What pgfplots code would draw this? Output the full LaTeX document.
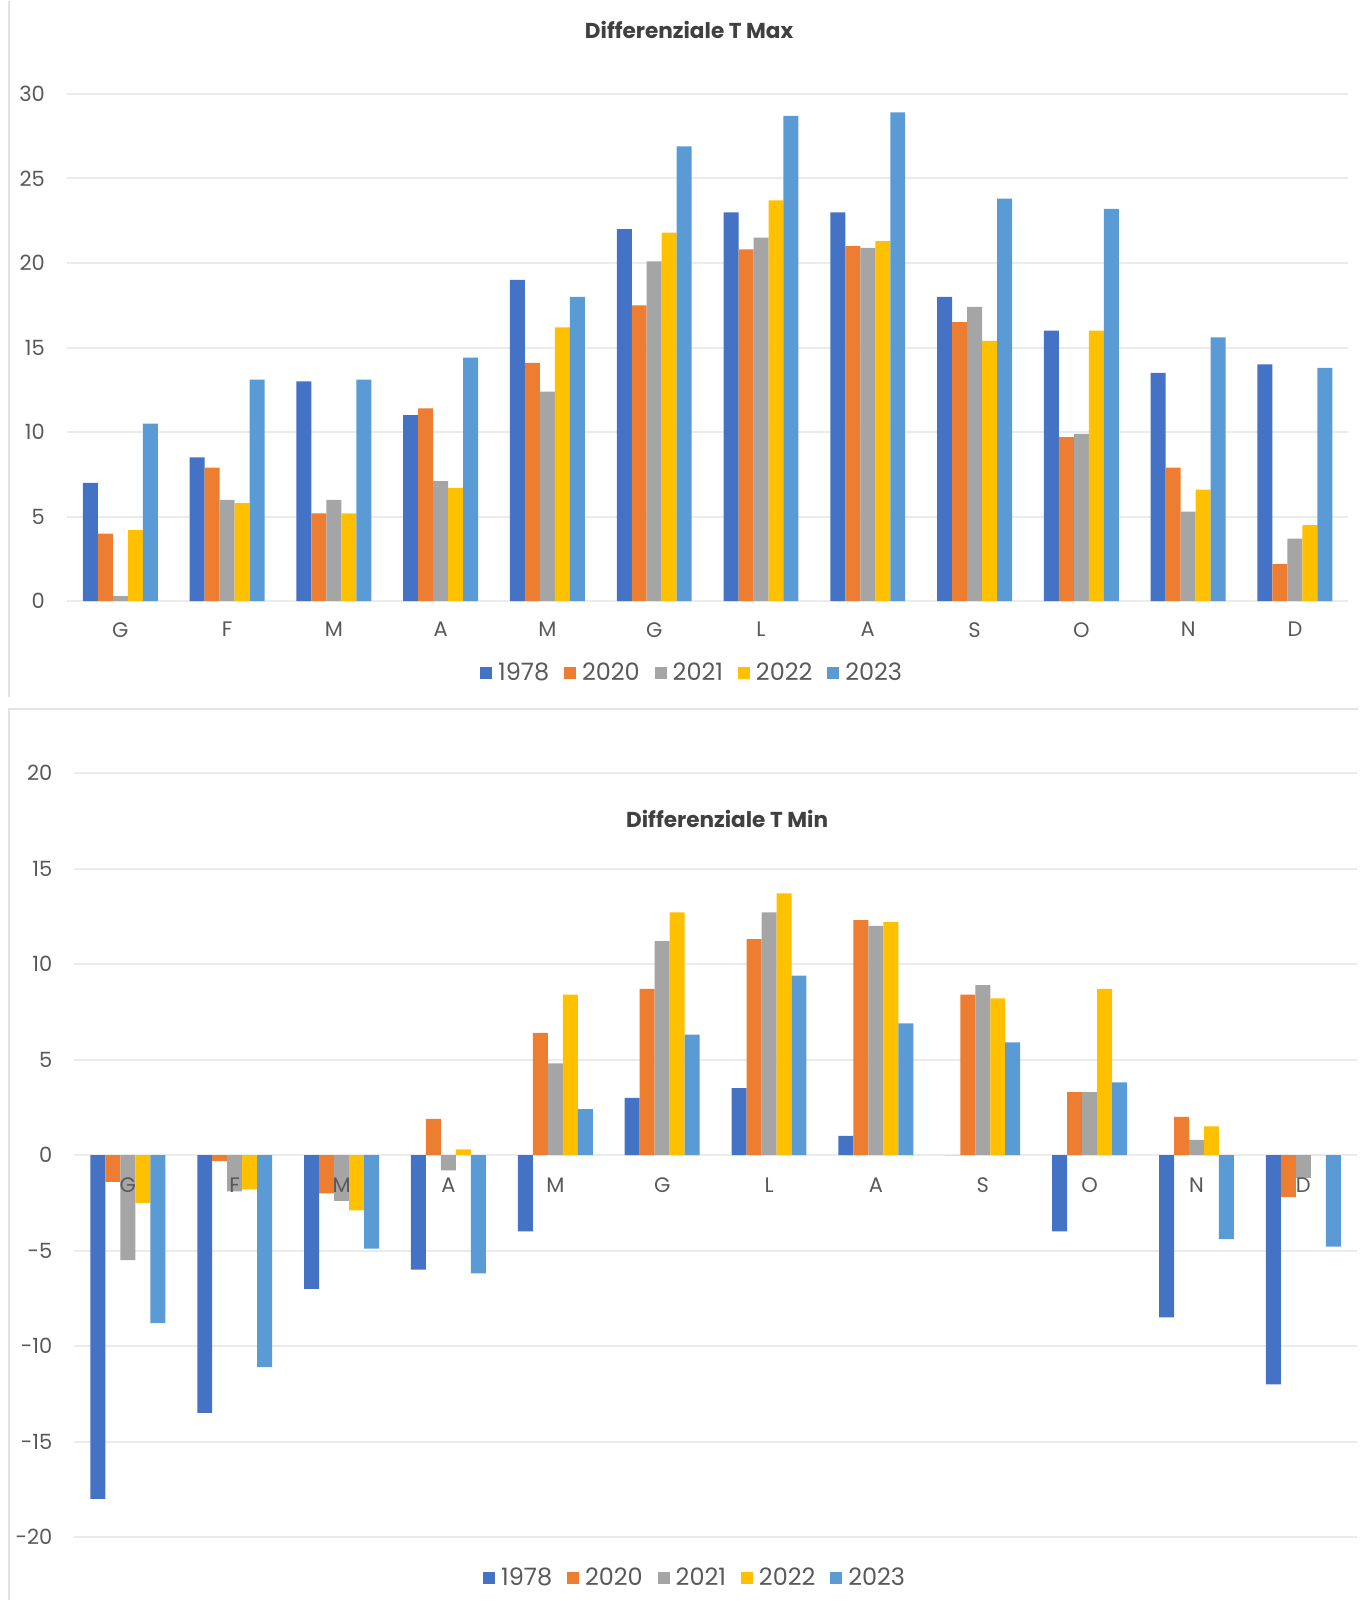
\documentclass[border=0pt]{standalone}
\usepackage{pgfplots}
\usepackage{pgfplotstable}
\pgfplotsset{compat=1.18}
\usepackage{fontspec}
\setmainfont{Poppins}

\definecolor{c1978}{HTML}{4472C4}
\definecolor{c2020}{HTML}{ED7D31}
\definecolor{c2021}{HTML}{A5A5A5}
\definecolor{c2022}{HTML}{FFC000}
\definecolor{c2023}{HTML}{5B9BD5}
\definecolor{lab}{HTML}{595959}
\definecolor{ttl}{HTML}{404040}
\definecolor{gridc}{HTML}{EBEBEB}
\definecolor{framec}{HTML}{E3E3E3}

% T Max (G..D = 0..11)
\pgfplotstableread{
x y1978 y2020 y2021 y2022 y2023
0  7.0   4.0   0.3   4.2   10.5
1  8.5   7.9   6.0   5.8   13.1
2  13.0  5.2   6.0   5.2   13.1
3  11.0  11.4  7.1   6.7   14.4
4  19.0  14.1  12.4  16.2  18.0
5  22.0  17.5  20.1  21.8  26.9
6  23.0  20.8  21.5  23.7  28.7
7  23.0  21.0  20.9  21.3  28.9
8  18.0  16.5  17.4  15.4  23.8
9  16.0  9.7   9.9   16.0  23.2
10 13.5  7.9   5.3   6.6   15.6
11 14.0  2.2   3.7   4.5   13.8
}\tmax

% T Min
\pgfplotstableread{
x y1978 y2020 y2021 y2022 y2023
0  -18.0 -1.4  -5.5  -2.5  -8.8
1  -13.5 -0.3  -1.9  -1.8  -11.1
2  -7.0  -2.0  -2.4  -2.9  -4.9
3  -6.0  1.9   -0.8  0.3   -6.2
4  -4.0  6.4   4.8   8.4   2.4
5  3.0   8.7   11.2  12.7  6.3
6  3.5   11.3  12.7  13.7  9.4
7  1.0   12.3  12.0  12.2  6.9
8  0.0   8.4   8.9   8.2   5.9
9  -4.0  3.3   3.3   8.7   3.8
10 -8.5  2.0   0.8   1.5   -4.4
11 -12.0 -2.2  -1.2  0.0   -4.8
}\tmin

\pgfplotsset{
  every axis title shift=0pt,
  diffbars/.style={
    scale only axis,
    ybar=0pt, bar width=7.5pt,
    xmin=-0.5, xmax=11.5,
    enlargelimits=false,
    xtick={0,...,11},
    xticklabels={G,F,M,A,M,G,L,A,S,O,N,D},
    major tick length=0pt,
    ymajorgrids,
    grid style={draw=gridc, line width=1pt},
    axis line style={draw=none},
    tick label style={font=\fontsize{10.5}{12}\selectfont, text=lab},
    yticklabel style={xshift=-7.5pt},
    xticklabel style={yshift=-7pt},
    title style={font=\bfseries\fontsize{10.8}{13}\selectfont, text=ttl,
      anchor=center, yshift=0pt},
    legend style={draw=none, fill=none, legend columns=-1,
      font=\fontsize{12}{14}\selectfont, text=lab, anchor=center,
      /tikz/every even column/.append style={column sep=5.5pt}},
    every axis plot post/.append style={
      legend image code/.code={
        \fill[##1] (0pt,-3pt) rectangle (6pt,3pt);
        \path (7pt,0pt);}},
  },
}

\begin{document}
\begin{tikzpicture}

% Differenziale T Max
\begin{axis}[diffbars,
  at={(33.5pt,500pt)}, anchor=south west,
  width=641.5pt, height=254pt,
  ymin=0, ymax=30,
  ytick={0,5,...,30},
  yticklabels={0,5,10,15,20,25,30},
  title={Differenziale T Max},
  title style={at={(0.4856,1.126)}},
  legend style={at={(0.4887,-0.1417)}},
]
\addplot[fill=c1978, draw=none] table[x=x, y=y1978] {\tmax};
\addplot[fill=c2020, draw=none] table[x=x, y=y2020] {\tmax};
\addplot[fill=c2021, draw=none] table[x=x, y=y2021] {\tmax};
\addplot[fill=c2022, draw=none] table[x=x, y=y2022] {\tmax};
\addplot[fill=c2023, draw=none] table[x=x, y=y2023] {\tmax};
\legend{1978,2020,2021,2022,2023}
\end{axis}

% Differenziale T Min
\begin{axis}[diffbars,
  at={(37.25pt,31.5pt)}, anchor=south west,
  width=642pt, height=382.5pt,
  ymin=-20, ymax=20,
  xtick=\empty,
  ytick={-20,-15,...,20},
  yticklabels={-20,-15,-10,-5,0,5,10,15,20},
  title={Differenziale T Min},
  title style={at={(0.509,0.9399)}},
  legend style={at={(0.4848,-0.0536)}},
]
\addplot[fill=c1978, draw=none] table[x=x, y=y1978] {\tmin};
\addplot[fill=c2020, draw=none] table[x=x, y=y2020] {\tmin};
\addplot[fill=c2021, draw=none] table[x=x, y=y2021] {\tmin};
\addplot[fill=c2022, draw=none] table[x=x, y=y2022] {\tmin};
\addplot[fill=c2023, draw=none] table[x=x, y=y2023] {\tmin};
\legend{1978,2020,2021,2022,2023}
\end{axis}

% month labels of T Min, set on the zero line over the bars
\begin{axis}[
  scale only axis,
  at={(37.25pt,31.5pt)}, anchor=south west,
  width=642pt, height=382.5pt,
  xmin=-0.5, xmax=11.5, ymin=-20, ymax=20,
  axis x line*=middle, axis y line=none,
  hide obscured x ticks=false,
  axis line style={draw=none},
  major tick length=0pt,
  xtick={0,...,11},
  xticklabels={G,F,M,A,M,G,L,A,S,O,N,D},
  ytick=\empty,
  tick label style={font=\fontsize{10.5}{12}\selectfont, text=lab},
  xticklabel style={yshift=-8pt},
]
\end{axis}

% chart area frames
\draw[framec, line width=1pt] (4.5pt,800.5pt) -- (4.5pt,452pt);
\draw[framec, line width=1pt] (680pt,446pt) -- (4.5pt,446pt) -- (4.5pt,0pt);
\useasboundingbox (0,0) rectangle (680pt,800.5pt);
\end{tikzpicture}
\end{document}
